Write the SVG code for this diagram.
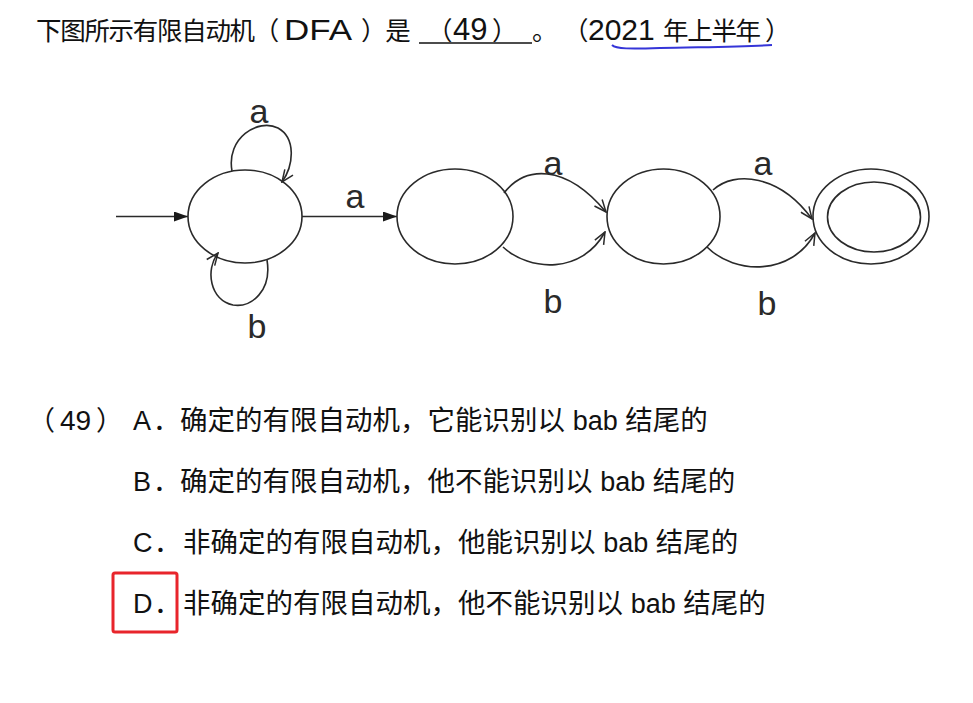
<svg xmlns="http://www.w3.org/2000/svg" width="973" height="703" viewBox="0 0 973 703">
<style>
.cjk{font-family:"Liberation Sans","Noto Sans CJK SC",sans-serif;fill:#111}
.lat{font-family:"Liberation Sans","Noto Sans CJK SC",sans-serif;fill:#111}
.tt{font-size:25.5px;letter-spacing:-1.3px}
.st{fill:none;stroke:#2a2a2a;stroke-width:1.6}
.ed{fill:none;stroke:#2a2a2a;stroke-width:1.6}
.lb{font-family:"Liberation Sans","DejaVu Sans",sans-serif;font-size:34px;fill:#2a2a2a;text-anchor:middle}
</style>
<defs>
<marker id="fa" markerWidth="14" markerHeight="10" refX="14" refY="5" orient="auto" markerUnits="userSpaceOnUse"><path d="M0,0 L14,5 L0,10 z" fill="#1a1a1a"/></marker>
<marker id="oa" markerWidth="14" markerHeight="12" refX="13" refY="6" orient="auto" markerUnits="userSpaceOnUse"><path d="M1,1 L13,6 L1,11" fill="none" stroke="#2a2a2a" stroke-width="1.5"/></marker>
</defs>
<rect width="973" height="703" fill="#fff"/>

<g id="title">
<text class="cjk tt" x="36" y="40">下图所示有限自动机（</text>
<text class="lat" x="284" y="40" font-size="30" textLength="68" lengthAdjust="spacingAndGlyphs">DFA</text>
<text class="cjk tt" x="361" y="40">）是</text>
<line x1="419" y1="43" x2="532" y2="43" stroke="#111" stroke-width="1.6"/>
<text class="cjk tt" x="427" y="40">（</text>
<text class="lat" x="453" y="40" font-size="31">49</text>
<text class="cjk tt" x="492" y="40">）</text>
<text class="cjk tt" x="532" y="40">。</text>
<text class="cjk tt" x="563" y="40">（</text>
<text class="lat" x="588" y="40" font-size="30">2021</text>
<text class="cjk tt" x="663" y="40">年上半年</text>
<text class="cjk tt" x="765" y="40">）</text>
<path d="M612,45 C616,49 630,49 660,48 C700,47 740,47 772,45" fill="none" stroke="#3535d8" stroke-width="2"/>
</g>

<g id="connectors">
<line class="ed" x1="116" y1="216.5" x2="188" y2="216.5" marker-end="url(#fa)"/>
<line class="ed" x1="302" y1="216.5" x2="397" y2="216.5" marker-end="url(#fa)"/>
<path class="ed" d="M232,171 C226,138 258,118 278,128 C296,138 294,165 282,182" marker-end="url(#oa)"/>
<path class="ed" d="M267,260 C272,290 252,308 233,305 C210,300 205,270 218,253" marker-end="url(#oa)"/>
<path class="ed" d="M504,193 C525,166 565,163 606,212" marker-end="url(#oa)"/>
<path class="ed" d="M503,247 C530,272 582,274 605,232" marker-end="url(#oa)"/>
<path class="ed" d="M713,190 C735,170 780,175 812,219" marker-end="url(#oa)"/>
<path class="ed" d="M707,247 C735,275 792,276 815,233" marker-end="url(#oa)"/>
<text class="lb" x="259" y="123">a</text>
<text class="lb" x="355" y="208">a</text>
<text class="lb" x="257" y="338">b</text>
<text class="lb" x="553" y="175">a</text>
<text class="lb" x="553" y="313">b</text>
<text class="lb" x="763" y="175">a</text>
<text class="lb" x="767" y="315">b</text>
</g>

<g id="s0"><ellipse class="st" cx="245" cy="216.5" rx="57" ry="46.5"/></g>
<g id="s1"><ellipse class="st" cx="455" cy="216.5" rx="58" ry="47.5"/></g>
<g id="s2"><ellipse class="st" cx="663.5" cy="216.5" rx="56.5" ry="47.5"/></g>
<g id="s3"><ellipse class="st" cx="871" cy="216.5" rx="58" ry="47.5"/><ellipse class="st" cx="874" cy="217" rx="46.5" ry="35"/></g>

<g id="options">
<text class="cjk" x="28" y="430" font-size="27">（</text>
<text class="lat" x="60" y="430" font-size="28">49</text>
<text class="cjk" x="96" y="430" font-size="27">）</text>
<text class="lat" x="133" y="430" font-size="27">A</text>
<text class="cjk" x="153" y="430" font-size="27">．</text>
<text class="cjk" x="180" y="430" font-size="27.5">确定的有限自动机，它能识别以 <tspan font-family="Liberation Sans" font-size="27">bab</tspan> 结尾的</text>

<text class="lat" x="133" y="491" font-size="27">B</text>
<text class="cjk" x="153" y="491" font-size="27">．</text>
<text class="cjk" x="180" y="491" font-size="27.5">确定的有限自动机，他不能识别以 <tspan font-family="Liberation Sans" font-size="27">bab</tspan> 结尾的</text>

<text class="lat" x="133" y="552" font-size="27">C</text>
<text class="cjk" x="154" y="552" font-size="27">．</text>
<text class="cjk" x="183" y="552" font-size="27.5">非确定的有限自动机，他能识别以 <tspan font-family="Liberation Sans" font-size="27">bab</tspan> 结尾的</text>

<rect x="113" y="573" width="64" height="59" rx="2" fill="none" stroke="#e8252b" stroke-width="3"/>
<text class="lat" x="133" y="613" font-size="27">D</text>
<text class="cjk" x="154" y="613" font-size="27">．</text>
<text class="cjk" x="183" y="613" font-size="27.5">非确定的有限自动机，他不能识别以 <tspan font-family="Liberation Sans" font-size="27">bab</tspan> 结尾的</text>
</g>
</svg>
